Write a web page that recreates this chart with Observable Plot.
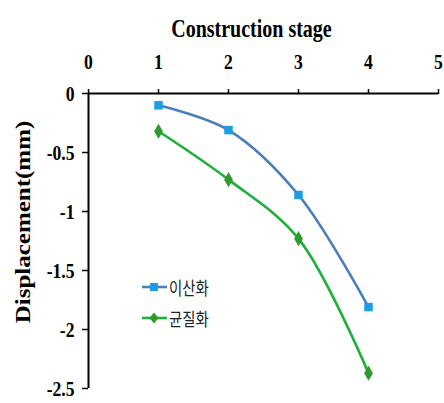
<!DOCTYPE html>
<html>
<head>
<meta charset="utf-8">
<script src="https://cdn.jsdelivr.net/npm/d3@7"></script>
<script src="https://cdn.jsdelivr.net/npm/@observablehq/plot@0.6"></script>
<style>
  html, body { margin: 0; padding: 0; background: #fff; }
  #wrap { position: relative; width: 444px; height: 403px; overflow: hidden; }
  #legend { position: absolute; left: 142px; top: 0; font-family: "Noto Sans CJK KR", "Noto Sans", sans-serif; font-size: 18px; color: #222; }
  .item { position: absolute; left: 0; display: flex; align-items: center; white-space: nowrap; }
  .item span { display: inline-block; transform: scaleX(0.8); transform-origin: left center; margin-left: 1px; }
</style>
</head>
<body>
<div id="wrap"></div>
<script>
// ---- data ----
const stages = [1, 2, 3, 4];
const discretized = [-0.1, -0.31, -0.86, -1.81];   // 이산화
const homogenized = [-0.32, -0.73, -1.23, -2.37];  // 균질화
const seriesNames = ["이산화", "균질화"];
const xTicks = [0, 1, 2, 3, 4, 5];
const yTicks = [0, -0.5, -1, -1.5, -2, -2.5];
const xTitle = "Construction stage";
const yTitle = "Displacement(mm)";

const blueLine = "#4A7EBB", blueMark = "#1E9DE4";
const greenLine = "#1DB03A", greenMark = "#2E9A2E";

const rows = [];
stages.forEach((s, i) => {
  rows.push({stage: s, value: discretized[i], series: seriesNames[0]});
  rows.push({stage: s, value: homogenized[i], series: seriesNames[1]});
});
const blueRows = rows.filter(d => d.series === seriesNames[0]);
const greenRows = rows.filter(d => d.series === seriesNames[1]);

const chart = Plot.plot({
  width: 444,
  height: 403,
  marginLeft: 88,
  marginRight: 6,
  marginTop: 93,
  marginBottom: 15,
  style: {fontFamily: "Liberation Serif", background: "#fff", color: "#000"},
  x: {domain: [0, 5]},
  y: {domain: [-2.5, 0]},
  marks: [
    Plot.axisX({anchor: "top", ticks: xTicks, tickSize: 5, tickPadding: 20, tickFormat: d => String(d),
      fontSize: 22, fontWeight: "bold", label: null, strokeWidth: 1.5}),
    Plot.axisY({anchor: "left", ticks: yTicks, tickSize: 6, tickPadding: 8, tickFormat: d => String(d),
      fontSize: 22, fontWeight: "bold", label: null, strokeWidth: 1.5}),
    Plot.ruleY([0], {stroke: "#000", strokeWidth: 2}),
    Plot.ruleX([0], {stroke: "#000", strokeWidth: 2}),
    Plot.text([xTitle], {frameAnchor: "top", lineAnchor: "middle", textAnchor: "middle", dx: -12, dy: -65,
      fontSize: 25, fontWeight: "bold"}),
    Plot.text([yTitle], {frameAnchor: "left", rotate: -90, textAnchor: "middle", lineAnchor: "middle",
      dx: -65, dy: -19, fontSize: 25, fontWeight: "bold"}),
    Plot.line(blueRows, {x: "stage", y: "value", stroke: blueLine, strokeWidth: 2.6, curve: "catmull-rom"}),
    Plot.line(greenRows, {x: "stage", y: "value", stroke: greenLine, strokeWidth: 2.6, curve: "catmull-rom"}),
    Plot.dot(blueRows, {x: "stage", y: "value", symbol: "square", r: 4.8, fill: blueMark}),
    Plot.dot(greenRows, {x: "stage", y: "value", symbol: "diamond", r: 4.6, fill: greenMark})
  ]
});

// horizontally condense all serif text, as in the reference
chart.querySelectorAll("text").forEach(t => {
  const tr = t.getAttribute("transform");
  if (tr) {
    if (/rotate/.test(tr)) t.setAttribute("transform", tr + " scale(1,0.8)");
    else t.setAttribute("transform", tr + " scale(0.8,1)");
  } else {
    const x = +(t.getAttribute("x") || 0), y = +(t.getAttribute("y") || 0);
    t.setAttribute("transform", `translate(${x},${y}) scale(0.8,1) translate(${-x},${-y})`);
  }
});

const wrap = document.getElementById("wrap");
wrap.appendChild(chart);

// legend
const legend = document.createElement("div");
legend.id = "legend";
const legendTops = [274, 305];
const legendStyles = [
  {stroke: blueLine, fill: blueMark, shape: "square"},
  {stroke: greenLine, fill: greenMark, shape: "diamond"}
];
seriesNames.forEach((name, i) => {
  const st = legendStyles[i];
  const item = document.createElement("div");
  item.className = "item";
  item.style.top = legendTops[i] + "px";
  const marker = st.shape === "square"
    ? `<rect x="8" y="4" width="8" height="8" fill="${st.fill}"/>`
    : `<path d="M12,2.5 L16.5,8 L12,13.5 L7.5,8 Z" fill="${st.fill}"/>`;
  item.innerHTML = `<svg width="26" height="16"><line x1="0" x2="25" y1="8" y2="8" stroke="${st.stroke}" stroke-width="2.6"/>${marker}</svg><span>${name}</span>`;
  legend.appendChild(item);
});
wrap.appendChild(legend);
</script>
</body>
</html>
